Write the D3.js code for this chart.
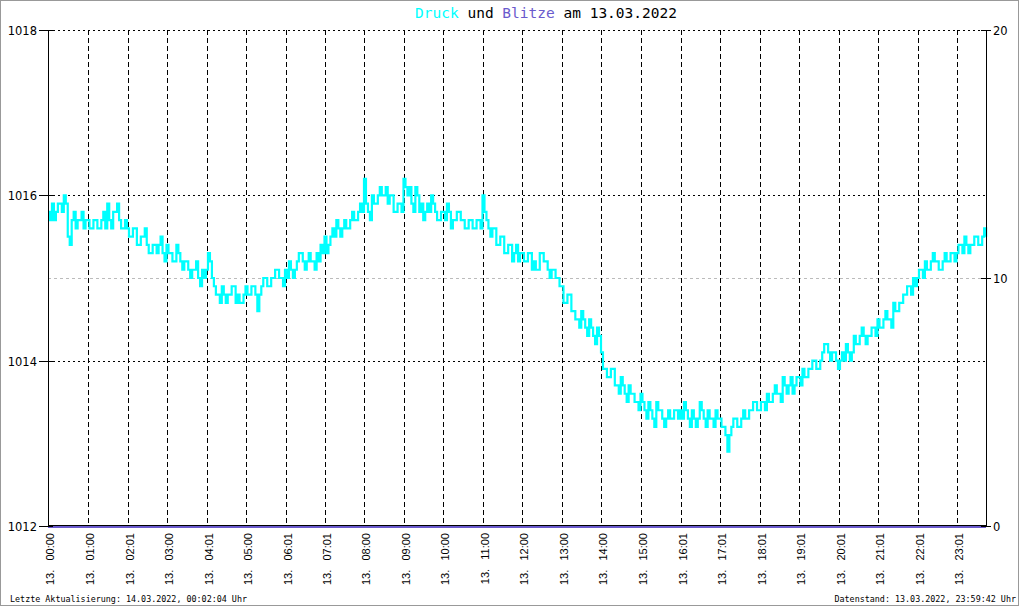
<!DOCTYPE html>
<html><head><meta charset="utf-8">
<script src="https://cdn.jsdelivr.net/npm/d3@7"></script>
<style>body{margin:0;background:#fff}svg{display:block}text{white-space:pre}</style>
</head><body>
<svg id="c" width="1020" height="606"></svg>
<script>
// ---- data ----
const stepMinutes = 3; // one pressure value every 3 minutes, starting 00:00
const druck = [
1015.8,1015.7,1015.9,1015.7,1015.8,1015.9,1015.9,1015.8,1016.0,1015.9,
1015.5,1015.4,1015.7,1015.8,1015.6,1015.7,1015.7,1015.8,1015.6,1015.7,
1015.7,1015.6,1015.6,1015.7,1015.7,1015.6,1015.6,1015.7,1015.8,1015.6,
1015.9,1015.7,1015.6,1015.8,1015.8,1015.9,1015.7,1015.6,1015.6,1015.7,
1015.6,1015.5,1015.5,1015.6,1015.6,1015.4,1015.4,1015.5,1015.5,1015.6,
1015.4,1015.3,1015.3,1015.4,1015.4,1015.3,1015.4,1015.5,1015.3,1015.2,
1015.4,1015.3,1015.3,1015.2,1015.2,1015.4,1015.3,1015.2,1015.1,1015.2,
1015.2,1015.1,1015.0,1015.1,1015.1,1015.2,1015.0,1014.9,1015.1,1015.0,
1015.1,1015.3,1015.2,1015.0,1014.9,1014.8,1014.8,1014.7,1014.9,1014.8,
1014.7,1014.8,1014.8,1014.9,1014.9,1014.7,1014.8,1014.7,1014.7,1014.8,
1014.9,1014.8,1014.8,1014.9,1014.9,1014.8,1014.6,1014.8,1014.9,1015.0,
1015.0,1014.9,1014.9,1015.0,1015.0,1015.1,1015.1,1015.0,1015.0,1014.9,
1015.1,1015.0,1015.2,1015.1,1015.0,1015.1,1015.2,1015.3,1015.3,1015.2,
1015.1,1015.2,1015.3,1015.2,1015.2,1015.1,1015.3,1015.2,1015.4,1015.3,
1015.5,1015.3,1015.4,1015.5,1015.6,1015.5,1015.7,1015.6,1015.5,1015.6,
1015.7,1015.6,1015.6,1015.7,1015.8,1015.7,1015.7,1015.8,1015.9,1015.8,
1016.2,1015.9,1015.8,1015.7,1016.0,1015.9,1015.9,1016.0,1016.1,1016.0,
1016.0,1016.1,1015.9,1016.0,1016.0,1015.8,1015.8,1015.9,1015.9,1015.8,
1016.2,1016.1,1016.0,1016.1,1015.9,1015.8,1016.1,1016.0,1015.8,1015.9,
1015.7,1015.8,1015.9,1015.8,1016.0,1015.9,1015.8,1015.7,1015.7,1015.8,
1015.8,1015.7,1015.9,1015.8,1015.6,1015.7,1015.7,1015.8,1015.8,1015.7,
1015.7,1015.6,1015.6,1015.7,1015.7,1015.6,1015.6,1015.7,1015.7,1015.6,
1016.0,1015.8,1015.7,1015.6,1015.5,1015.6,1015.6,1015.4,1015.4,1015.5,
1015.5,1015.3,1015.3,1015.4,1015.4,1015.2,1015.3,1015.4,1015.2,1015.3,
1015.3,1015.2,1015.2,1015.3,1015.3,1015.1,1015.2,1015.1,1015.1,1015.3,
1015.3,1015.2,1015.2,1015.1,1015.0,1015.1,1015.1,1015.0,1015.0,1014.9,
1014.9,1014.7,1014.7,1014.8,1014.8,1014.6,1014.6,1014.5,1014.5,1014.4,
1014.6,1014.5,1014.4,1014.3,1014.5,1014.4,1014.3,1014.2,1014.4,1014.3,
1014.1,1013.9,1013.9,1013.8,1013.8,1013.9,1013.9,1013.7,1013.7,1013.6,
1013.8,1013.7,1013.6,1013.5,1013.7,1013.6,1013.6,1013.5,1013.5,1013.4,
1013.6,1013.5,1013.4,1013.3,1013.5,1013.4,1013.3,1013.2,1013.5,1013.4,
1013.4,1013.3,1013.2,1013.3,1013.4,1013.3,1013.3,1013.4,1013.4,1013.3,
1013.4,1013.3,1013.5,1013.4,1013.3,1013.2,1013.4,1013.3,1013.2,1013.3,
1013.5,1013.4,1013.3,1013.2,1013.4,1013.3,1013.3,1013.2,1013.4,1013.3,
1013.3,1013.2,1013.2,1013.1,1012.9,1013.1,1013.2,1013.3,1013.3,1013.2,
1013.2,1013.3,1013.4,1013.3,1013.3,1013.4,1013.4,1013.5,1013.5,1013.4,
1013.4,1013.5,1013.5,1013.4,1013.6,1013.5,1013.5,1013.6,1013.7,1013.6,
1013.6,1013.5,1013.8,1013.7,1013.6,1013.7,1013.8,1013.6,1013.7,1013.8,
1013.8,1013.7,1013.9,1013.8,1013.8,1013.9,1013.9,1014.0,1014.0,1013.9,
1013.9,1014.0,1014.1,1014.2,1014.2,1014.1,1014.0,1014.1,1014.1,1014.0,
1013.9,1014.0,1014.1,1014.0,1014.2,1014.1,1014.0,1014.1,1014.3,1014.2,
1014.2,1014.3,1014.4,1014.3,1014.2,1014.3,1014.3,1014.4,1014.4,1014.3,
1014.5,1014.4,1014.4,1014.5,1014.6,1014.5,1014.5,1014.4,1014.7,1014.6,
1014.6,1014.7,1014.7,1014.8,1014.8,1014.9,1014.9,1014.8,1015.0,1014.9,
1015.0,1015.1,1015.1,1015.0,1015.2,1015.1,1015.1,1015.2,1015.3,1015.2,
1015.2,1015.1,1015.1,1015.2,1015.3,1015.2,1015.2,1015.3,1015.3,1015.2,
1015.3,1015.4,1015.4,1015.3,1015.5,1015.4,1015.3,1015.4,1015.4,1015.5,
1015.5,1015.4,1015.4,1015.5,1015.6,1015.5
];
const blitze = [0, 0];
const xTickLabels = ["13. 00:00","13. 01:00","13. 02:01","13. 03:00","13. 04:01","13. 05:00",
 "13. 06:01","13. 07:01","13. 08:00","13. 09:00","13. 10:00","13. 11:00","13. 12:00",
 "13. 13:00","13. 14:00","13. 15:00","13. 16:01","13. 17:01","13. 18:01","13. 19:01",
 "13. 20:01","13. 21:01","13. 22:01","13. 23:01"];
const leftTicks = [1012, 1014, 1016, 1018];
const rightTicks = [0, 10, 20];
const titleParts = [["Druck","#00ffff"],[" und ","#000"],["Blitze","#6a5acd"],[" am 13.03.2022","#000"]];
const footLeft = "Letzte Aktualisierung: 14.03.2022, 00:02:04 Uhr";
const footRight = "Datenstand: 13.03.2022, 23:59:42 Uhr";

// ---- layout ----
const L = 48, R = 986, T = 30, B = 526;
const svg = d3.select("#c");
const x = d3.scaleLinear().domain([0, 1440]).range([L, L + 948]);
const y = d3.scaleLinear().domain([1012, 1018]).range([B, T]);
const y2 = d3.scaleLinear().domain([0, 20]).range([B, T]);
const tickMin = xTickLabels.map(s => { const p = s.split(" ")[1].split(":"); return +p[0]*60 + +p[1]; });

svg.append("rect").attr("x",0.5).attr("y",0.5).attr("width",1018).attr("height",605)
  .attr("fill","#fff").attr("stroke","#999");

// gray dashed line at right 10
svg.append("line").attr("x1",L).attr("x2",R).attr("y1",Math.round(y2(10))+0.5).attr("y2",Math.round(y2(10))+0.5)
  .attr("stroke","#bbb").attr("stroke-dasharray","3,3");

// horizontal dotted grid
svg.append("g").selectAll("line").data(leftTicks.filter(d => d > 1012)).join("line")
  .attr("x1",L).attr("x2",R).attr("y1",d=>Math.round(y(d))+0.5).attr("y2",d=>Math.round(y(d))+0.5)
  .attr("stroke","#000").attr("stroke-dasharray","2,3");

// vertical dashed grid
svg.append("g").selectAll("line").data(tickMin.slice(1)).join("line")
  .attr("x1",d=>Math.round(x(d))+0.5).attr("x2",d=>Math.round(x(d))+0.5).attr("y1",T).attr("y2",B)
  .attr("stroke","#000").attr("stroke-dasharray","5,3");

// pressure line
const line = d3.line().x((d,i)=>x(i*stepMinutes)).y(d=>y(d)).curve(d3.curveStepAfter);
svg.append("path").datum(druck).attr("d",line).attr("fill","none")
  .attr("stroke","#00ffff").attr("stroke-width",2.2);

// axes frame
svg.append("line").attr("x1",L+0.5).attr("x2",L+0.5).attr("y1",T).attr("y2",B).attr("stroke","#000");
svg.append("line").attr("x1",R+0.5).attr("x2",R+0.5).attr("y1",T).attr("y2",B).attr("stroke","#000");
svg.append("line").attr("x1",L).attr("x2",R).attr("y1",B-0.5).attr("y2",B-0.5).attr("stroke","#000");

// blitze line (zero)
svg.append("path").datum(blitze).attr("d",d3.line().x((d,i)=>i===0?L:R).y(d=>y2(d)+1))
  .attr("stroke","#6a5acd").attr("stroke-width",2).attr("fill","none");

// left ticks + labels
const lg = svg.append("g");
leftTicks.forEach(v => {
  const yy = Math.round(y(v)) + 0.5;
  lg.append("line").attr("x1",39).attr("x2",53).attr("y1",yy).attr("y2",yy).attr("stroke","#000");
  lg.append("text").attr("x",37).attr("y",yy+4).attr("text-anchor","end")
    .attr("font-family","DejaVu Sans").attr("font-size",11.5).text(v);
});
// right ticks + labels
rightTicks.forEach(v => {
  const yy = Math.round(y2(v)) + 0.5;
  lg.append("line").attr("x1",981).attr("x2",991).attr("y1",yy).attr("y2",yy).attr("stroke","#000");
  lg.append("text").attr("x",993).attr("y",yy+4).attr("text-anchor","start")
    .attr("font-family","DejaVu Sans").attr("font-size",11.5).text(v);
});

// x labels rotated
xTickLabels.forEach((s,i) => {
  const xx = Math.round(x(tickMin[i])) + 6;
  svg.append("text").attr("transform",`translate(${xx},533) rotate(-90)`)
    .attr("text-anchor","end").attr("font-family","Liberation Sans").attr("font-size",11)
    .text(s.replace(" ","   "));
});

// title
const tt = svg.append("text").attr("x",546).attr("y",18).attr("text-anchor","middle")
  .attr("font-family","DejaVu Sans Mono").attr("font-size",14.5);
titleParts.forEach(p => tt.append("tspan").attr("fill",p[1]).text(p[0]));

// footers
svg.append("text").attr("x",10).attr("y",602).attr("font-family","DejaVu Sans Mono")
  .attr("font-size",8.4).text(footLeft);
svg.append("text").attr("x",1016).attr("y",602).attr("text-anchor","end").attr("font-family","DejaVu Sans Mono")
  .attr("font-size",8.4).text(footRight);
</script>
</body></html>
